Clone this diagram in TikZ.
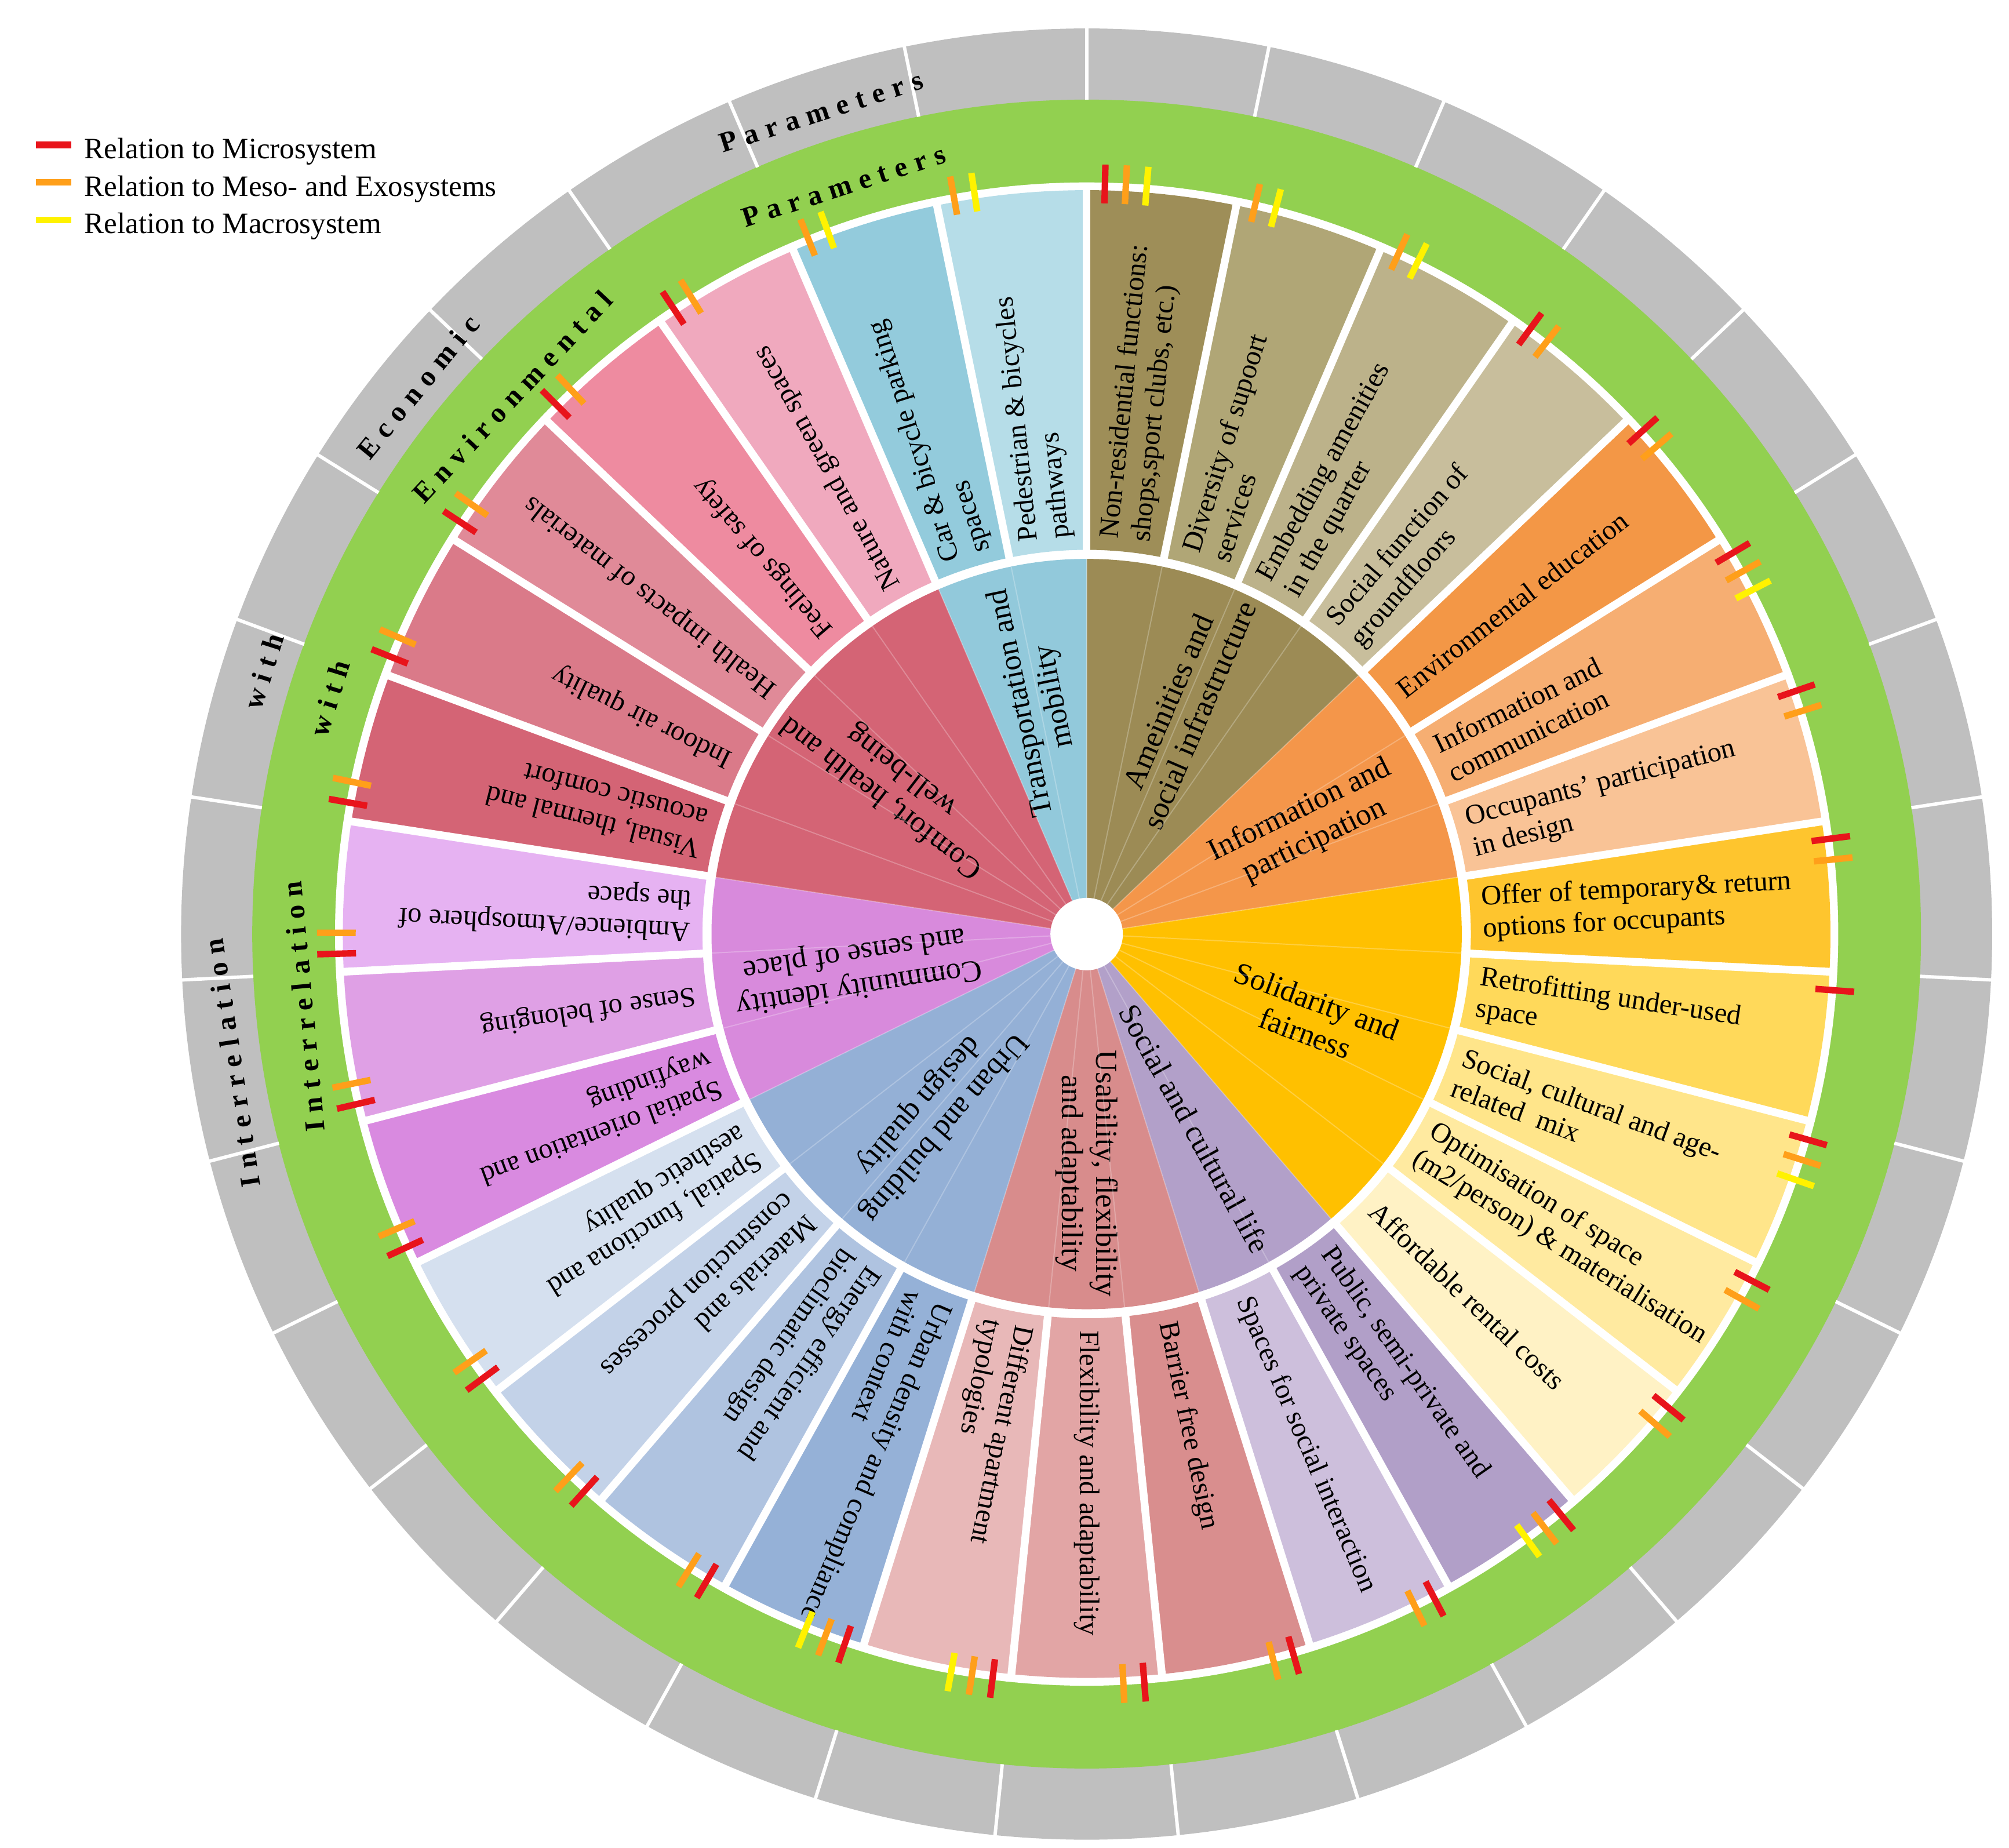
\documentclass[tikz,border=0pt]{standalone}
\usepackage{fontspec}
\setmainfont{Liberation Serif}
\definecolor{mred}{HTML}{E8141B}
\definecolor{mora}{HTML}{FF9F1A}
\definecolor{myel}{HTML}{FFF200}
\definecolor{ringg}{HTML}{92D050}
\definecolor{ringgr}{HTML}{BFBFBF}
\definecolor{s1}{HTML}{9E8E58}\definecolor{s2}{HTML}{B0A676}\definecolor{s3}{HTML}{BCB28A}\definecolor{s4}{HTML}{C8BE9C}
\definecolor{s5}{HTML}{F39746}\definecolor{s6}{HTML}{F6AE72}\definecolor{s7}{HTML}{F9C396}
\definecolor{s8}{HTML}{FEC52E}\definecolor{s9}{HTML}{FFD95A}\definecolor{s10}{HTML}{FFE58A}\definecolor{s11}{HTML}{FFEAA0}\definecolor{s12}{HTML}{FFF2C5}
\definecolor{s13}{HTML}{B19FC8}\definecolor{s14}{HTML}{CDBFDC}
\definecolor{s15}{HTML}{D98E8E}\definecolor{s16}{HTML}{E2A5A5}\definecolor{s17}{HTML}{E8B8B8}
\definecolor{s18}{HTML}{95B1D7}\definecolor{s19}{HTML}{AFC3E0}\definecolor{s20}{HTML}{C3D2E8}\definecolor{s21}{HTML}{D5E0EF}
\definecolor{s22}{HTML}{D98AE0}\definecolor{s23}{HTML}{DFA0E5}\definecolor{s24}{HTML}{E6B2F2}
\definecolor{s25}{HTML}{D46475}\definecolor{s26}{HTML}{DA7A89}\definecolor{s27}{HTML}{E08A98}\definecolor{s28}{HTML}{EE8BA0}\definecolor{s29}{HTML}{F0A9BE}
\definecolor{s30}{HTML}{93CBDC}\definecolor{s31}{HTML}{B6DDE8}
\definecolor{camen}{HTML}{9C8B55}\definecolor{cinfo}{HTML}{F4964A}\definecolor{csolid}{HTML}{FFC000}
\definecolor{csocial}{HTML}{B2A0C9}\definecolor{cusab}{HTML}{D88C8C}\definecolor{curban}{HTML}{94B0D6}
\definecolor{ccomm}{HTML}{D88ADC}\definecolor{ccomf}{HTML}{D46475}\definecolor{ctransp}{HTML}{92C9DB}
\tikzset{
 segtext/.style={font=\fontsize{12.4}{14}\selectfont,align=left,inner sep=0pt},
 cattext/.style={font=\fontsize{13.5}{15}\selectfont,align=center,inner sep=0pt},
 ringtext/.style={font=\bfseries\fontsize{12.5}{13}\selectfont\addfontfeature{LetterSpace=28},inner sep=0pt},
 legtext/.style={font=\fontsize{13}{14}\selectfont,anchor=west,inner sep=0pt},
 markline/.style={line width=0.1cm},
}
\begin{document}
\begin{tikzpicture}[x=0.02cm,y=0.02cm]
\useasboundingbox (-840,-706) rectangle (713,722);
\def\w{11.6129}
% rings
\fill[ringgr] (0,0) circle[radius=700];
\fill[ringg] (0,0) circle[radius=645];
\fill[white] (0,0) circle[radius=581];
\foreach \i in {0,...,30}{
 \pgfmathsetmacro\s{90-\i*\w}
 \draw[white,line width=1.5pt] (\s:645) -- (\s:702);
}
% inner categories
\foreach \a/\b/\c/\r/\t [count=\k] in {
 90/43.548/camen/190/{Ameinities and\\social infrastructure},
 43.548/8.710/cinfo/190/{Information and\\participation},
 8.710/-49.355/csolid/185/{Solidarity and\\fairness},
 -49.355/-72.581/csocial/172/{Social and cultural life},
 -72.581/-107.419/cusab/185/{Usability, flexibility\\and adaptability},
 -107.419/-153.871/curban/185/{Urban and building\\design quality},
 -153.871/-188.710/ccomm/180/{Community identity\\and sense of place},
 -188.710/-246.774/ccomf/190/{Comfort, health and\\well-being},
 -246.774/-270/ctransp/185/{Transportation and\\mobility}}{
 \fill[\c] (0,0) -- (\a:290) arc[start angle=\a,end angle=\b,radius=290] -- cycle;
 \pgfmathsetmacro\m{(\a+\b)/2}
 \node[cattext,rotate=\m] (c\k) at (\m:\r) {\t};
}
\foreach \i in {0,...,30}{
 \pgfmathsetmacro\s{90-\i*\w}
 \draw[white,opacity=0.25,line width=0.5pt] (\s:28) -- (\s:290);
}
\fill[white] (0,0) circle[radius=28];
% segments
\foreach \i/\c/\t/\ma/\mb/\mc in {
 1/s1/{Non-residential functions:\\shops,sport clubs, etc.)}/mred/mora/myel,
 2/s2/{Diversity of supoort\\services}/mora/myel/none,
 3/s3/{Embedding amenities\\in the quarter}/mora/myel/none,
 4/s4/{Social function of\\groundfloors}/mred/mora/none,
 5/s5/{Environmental education}/mred/mora/none,
 6/s6/{Information and\\communication}/mred/mora/myel,
 7/s7/{Occupants' participation\\in design}/mred/mora/none,
 8/s8/{Offer of temporary\& return\\options for occupants}/mred/mora/none,
 9/s9/{Retrofitting under-used\\space}/mred/none/none,
 10/s10/{Social, cultural and age-\\related\ \ mix}/mred/mora/myel,
 11/s11/{Optimisation of space\\(m2/person) \& materialisation}/mred/mora/none,
 12/s12/{Affordable rental costs}/mred/mora/none,
 13/s13/{Public, semi-private and\\private spaces}/mred/mora/myel,
 14/s14/{Spaces for social interaction}/mred/mora/none,
 15/s15/{Barrier free design}/mred/mora/none,
 16/s16/{Flexibility and adaptability}/mred/mora/none,
 17/s17/{Different apartment\\typologies}/mred/mora/myel,
 18/s18/{Urban density and compliance\\with context}/mred/mora/myel,
 19/s19/{Energy efficient and\\bioclimatic design}/mred/mora/none,
 20/s20/{Materials and\\construction processes}/mred/mora/none,
 21/s21/{Spatial, functiona and\\aesthetic quality}/mred/mora/none,
 22/s22/{Spatial orientation and\\wayfinding}/mred/mora/none,
 23/s23/{Sense of belonging}/mred/mora/none,
 24/s24/{Ambience/Atmosphere of\\the space}/mred/mora/none,
 25/s25/{Visual, thermal and\\acoustic comfort}/mred/mora/none,
 26/s26/{Indoor air quality}/mred/mora/none,
 27/s27/{Health impacts of materials}/mred/mora/none,
 28/s28/{Feelings of safety}/mred/mora/none,
 29/s29/{Nature and green spaces}/mred/mora/none,
 30/s30/{Car \& bicycle parking\\spaces}/mora/myel/none,
 31/s31/{Pedestrian \& bicycles\\pathways}/mora/myel/none}{
 \pgfmathsetmacro\s{90-(\i-1)*\w}
 \pgfmathsetmacro\e{\s-\w}
 \pgfmathsetmacro\m{\s-\w/2}
 \fill[\c] (\s:297) arc[start angle=\s,end angle=\e,radius=297] -- (\e:575) arc[start angle=\e,end angle=\s,radius=575] -- cycle;
 \node[segtext,rotate=\m,anchor=west] (t\i) at (\m:306) {\t};
 \pgfmathsetmacro\pa{\s-1.4}\pgfmathsetmacro\pb{\s-3.0}\pgfmathsetmacro\pc{\s-4.6}
 \draw[markline,draw=\ma] (\pa:565) -- (\pa:595);
 \draw[markline,draw=\mb] (\pb:565) -- (\pb:595);
 \draw[markline,draw=\mc] (\pc:565) -- (\pc:595);
}
\foreach \i in {0,...,30}{
 \pgfmathsetmacro\s{90-\i*\w}
 \draw[white,line width=0.12cm] (\s:294) -- (\s:578);
}
\draw[white,line width=1pt] (0,0) circle[radius=293.5];
% ring texts
\node[ringtext,rotate=95.3] (gi) at (185.3:608) {Interrelation};
\node[ringtext,rotate=72.7] (gw) at (162.7:613) {with};
\node[ringtext,rotate=46.9] (ge) at (136.9:608) {Environmental};
\node[ringtext,rotate=18] (gp) at (108:608) {Parameters};
\node[ringtext,rotate=98.6] (ri) at (188.6:668) {Interrelation};
\node[ringtext,rotate=72.3] (rw) at (162.3:668) {with};
\node[ringtext,rotate=50.7] (re) at (140.7:668) {Economic};
\node[ringtext,rotate=17.9] (rp) at (107.9:668) {Parameters};
% legend
\coordinate (l1a) at (-812,610); \coordinate (l1b) at (-785,610);
\coordinate (l2a) at (-812,581); \coordinate (l2b) at (-785,581);
\coordinate (l3a) at (-812,552); \coordinate (l3b) at (-785,552);
\draw[markline,mred] (l1a) -- (l1b);
\draw[markline,mora] (l2a) -- (l2b);
\draw[markline,myel] (l3a) -- (l3b);
\node[legtext] (lg1) at (-775,605) {Relation to Microsystem};
\node[legtext] (lg2) at (-775,576) {Relation to Meso- and Exosystems};
\node[legtext] (lg3) at (-775,547) {Relation to Macrosystem};
\end{tikzpicture}
\end{document}
